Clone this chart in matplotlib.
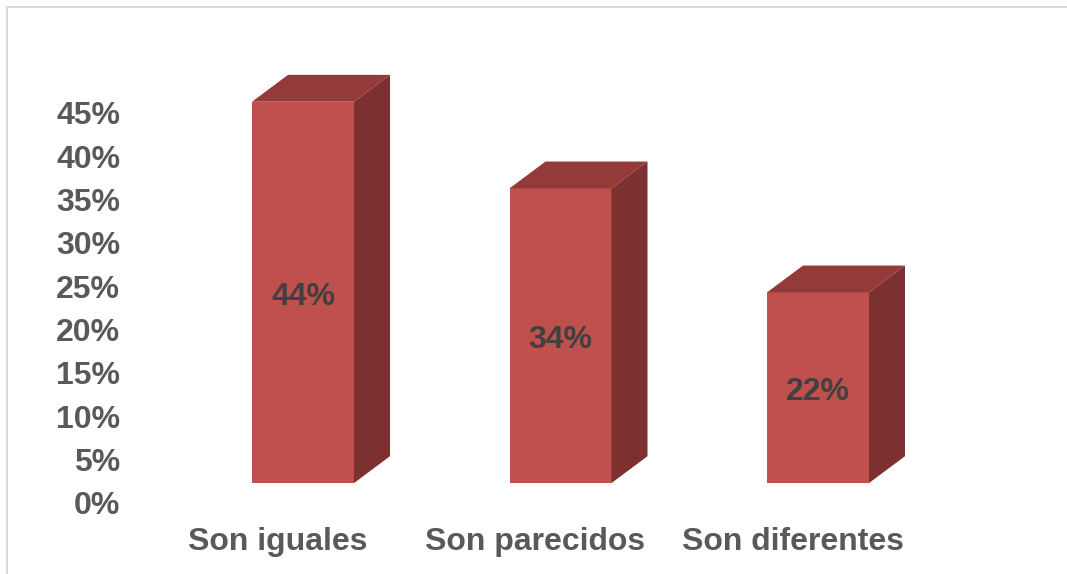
import matplotlib
matplotlib.use("Agg")
import matplotlib.pyplot as plt
from matplotlib.patches import Rectangle, Polygon

categories = ["Son iguales", "Son parecidos", "Son diferentes"]
values = [44, 34, 22]
value_labels = ["44%", "34%", "22%"]
y_ticks = [0, 5, 10, 15, 20, 25, 30, 35, 40, 45]
y_tick_labels = ["0%", "5%", "10%", "15%", "20%", "25%", "30%", "35%", "40%", "45%"]

plt.rcParams["font.family"] = ["Liberation Sans", "DejaVu Sans"]
plt.rcParams["font.weight"] = "bold"

W, H = 1067, 574
fig = plt.figure(figsize=(W / 100, H / 100), dpi=100)

# axes placed in pixel terms: 0% at y=503, 45% at y=113
left_px, right_px = 130, 1000
ax = fig.add_axes([left_px / W, (H - 503) / H, (right_px - left_px) / W, 390 / H])
step = 257.5  # pixels between bar slots
ax.set_xlim(-(303 - left_px) / step, 2 + (right_px - 818) / step)
ax.set_ylim(0, 45)
for s in ax.spines.values():
    s.set_visible(False)

front = "#C0504D"
top = "#943B3A"
side = "#7C302F"
width = 102 / step
dx = 36 / step       # depth to the right
dy = 3.1             # depth upward, in % units
base = 2.3           # front face sits a bit above the floor

for i, v in enumerate(values):
    x0 = i - width / 2
    x1 = i + width / 2
    ax.add_patch(Rectangle((x0, base), width, v, facecolor=front,
                           edgecolor="none", clip_on=False))
    ax.add_patch(Polygon([(x0, base + v), (x1, base + v),
                          (x1 + dx, base + v + dy), (x0 + dx, base + v + dy)],
                         closed=True, facecolor=top, edgecolor="none", clip_on=False))
    ax.add_patch(Polygon([(x1, base), (x1, base + v),
                          (x1 + dx, base + v + dy), (x1 + dx, base + dy)],
                         closed=True, facecolor=side, edgecolor="none", clip_on=False))
    ax.text(i, base + v / 2 - 0.5, value_labels[i], ha="center", va="center",
            fontsize=23, fontweight="bold", color="#404040")

ax.set_yticks(y_ticks)
ax.set_yticklabels(y_tick_labels)
ax.set_xticks([i - 25 / step for i in range(len(categories))])
ax.set_xticklabels(categories)
ax.tick_params(axis="y", length=0, pad=7, labelsize=23, labelcolor="#595959")
ax.tick_params(axis="x", length=0, pad=17, labelsize=23, labelcolor="#595959")

# chart frame, cut off at the right and bottom edges
fig.add_artist(Rectangle((7 / W, -0.05), 1.1, (H - 7) / H + 0.05,
                         transform=fig.transFigure, facecolor="none",
                         edgecolor="#D9D9D9", linewidth=1.5))

fig.savefig("out.png", dpi=100)
